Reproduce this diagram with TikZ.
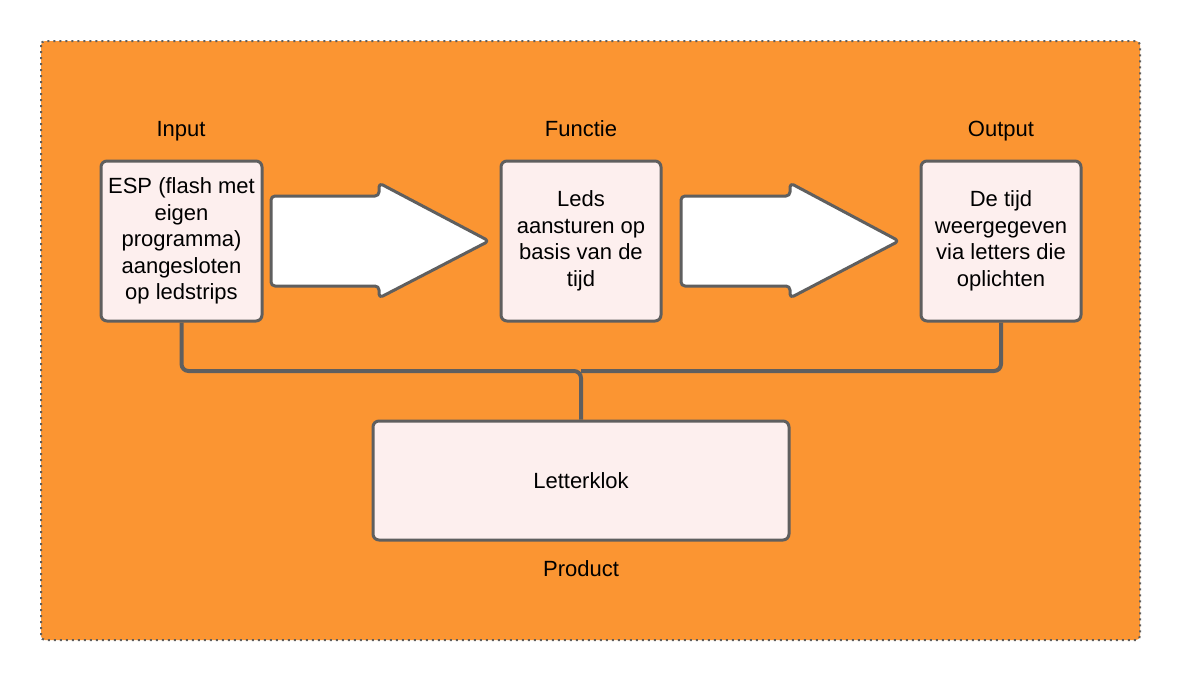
\documentclass[tikz,border=0pt]{standalone}
\usepackage{fontspec}
\setmainfont{Liberation Sans}
\definecolor{bgorange}{HTML}{FB9532}
\definecolor{boxfill}{HTML}{FDEFEE}
\definecolor{edge}{HTML}{5F5F5F}
\tikzset{
  blk/.style={draw=edge, line width=3pt, fill=boxfill, rounded corners=6pt,
    align=center, font=\fontsize{22}{26.5}\selectfont, inner sep=0pt},
  lbl/.style={font=\fontsize{22}{26.5}\selectfont, inner sep=0pt, anchor=base},
  bigarrow/.style={draw=edge, line width=3pt, fill=white, rounded corners=4pt, line join=round},
  link/.style={draw=edge, line width=4pt, rounded corners=7pt}
}
\begin{document}
\begin{tikzpicture}[x=1pt,y=-1pt]
\useasboundingbox (0,0) rectangle (1183,683);
\draw[fill=bgorange, draw=edge, line width=2pt, dash pattern=on 2pt off 4pt, rounded corners=4pt] (41,41) rectangle (1140,640);

\node[blk, minimum width=161pt, minimum height=160pt] (in) at (181.5,241) {ESP (flash met\\eigen\\programma)\\aangesloten\\op ledstrips};
\node[blk, minimum width=160pt, minimum height=160pt] (fn) at (581,241) {Leds\\aansturen op\\basis van de\\tijd};
\node[blk, minimum width=160pt, minimum height=160pt] (out) at (1001,241) {De tijd\\weergegeven\\via letters die\\oplichten};
\node[blk, minimum width=416pt, minimum height=119pt] (lk) at (581,480.5) {Letterklok};

\node[lbl] (tin) at (181,136) {Input};
\node[lbl] (tfn) at (581,136) {Functie};
\node[lbl] (tout) at (1001,136) {Output};
\node[lbl] (tprod) at (581,576) {Product};

\draw[bigarrow] (271,196) -- (379,196) -- (379,183) -- (489,241) -- (379,298) -- (379,286) -- (271,286) -- cycle;
\draw[bigarrow] (681,196) -- (790,196) -- (790,183) -- (899,241) -- (790,298) -- (790,286) -- (681,286) -- cycle;

\coordinate (j) at (581,371);
\draw[link] (in.south) |- (j) -- (lk.north);
\draw[link] (out.south) |- (j);
\end{tikzpicture}
\end{document}
